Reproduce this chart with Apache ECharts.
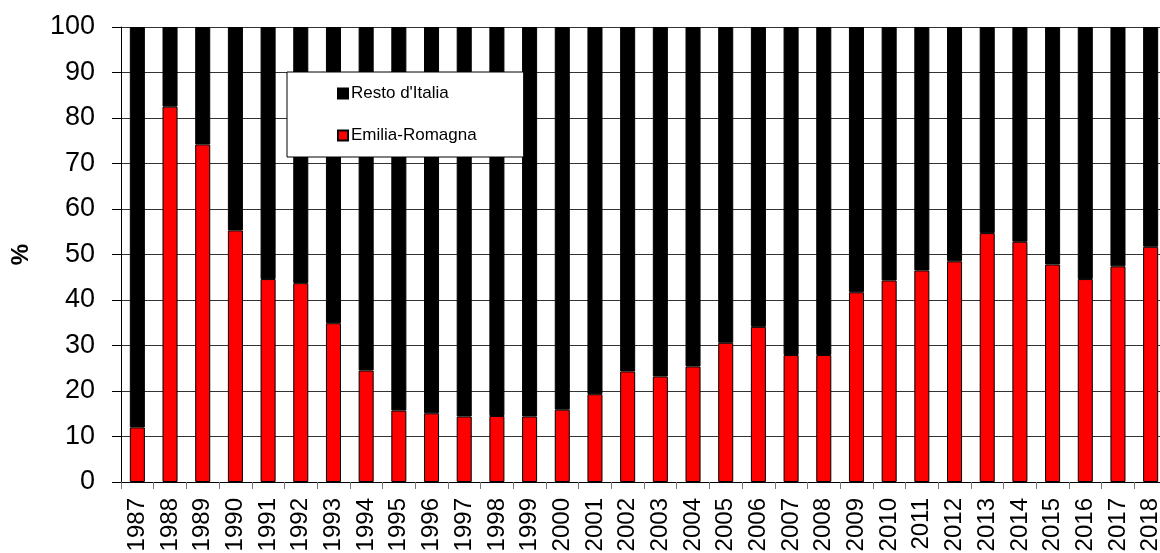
<!DOCTYPE html>
<html>
<head>
<meta charset="utf-8">
<script src="https://cdn.jsdelivr.net/npm/echarts@6/dist/echarts.min.js"></script>
<style>
html,body{margin:0;padding:0;background:#fff;}
#c{width:1160px;height:553px;}
</style>
</head>
<body>
<div id="c"></div>
<script>
const years = ['1987','1988','1989','1990','1991','1992','1993','1994','1995','1996','1997','1998','1999','2000','2001','2002','2003','2004','2005','2006','2007','2008','2009','2010','2011','2012','2013','2014','2015','2016','2017','2018'];
const emiliaRomagna = [12.0,82.5,74.2,55.3,44.6,43.7,34.9,24.5,15.7,15.1,14.4,14.5,14.4,15.9,19.3,24.3,23.2,25.4,30.6,34.1,27.9,27.9,41.7,44.3,46.5,48.5,54.7,52.8,47.8,44.6,47.4,51.7];
const restoItalia = [88.0,17.5,25.8,44.7,55.4,56.3,65.1,75.5,84.3,84.9,85.6,85.5,85.6,84.1,80.7,75.7,76.8,74.6,69.4,65.9,72.1,72.1,58.3,55.7,53.5,51.5,45.3,47.2,52.2,55.4,52.6,48.3];
const yTicks = [0,10,20,30,40,50,60,70,80,90,100];

const chart = echarts.init(document.getElementById('c'), null, {renderer:'canvas'});
const font = '"Liberation Sans", Arial, sans-serif';
chart.setOption({
  animation: false,
  backgroundColor: '#fff',
  textStyle: {fontFamily: font},
  grid: {left: 121, right: -7, top: 27, bottom: 71, containLabel: false, outerBoundsMode: 'none'},
  legend: {
    orient: 'vertical',
    left: 287, top: 72,
    data: ["Resto d'Italia", 'Emilia-Romagna'],
    backgroundColor: '#fff',
    borderColor: '#000',
    borderWidth: 1,
    padding: [13, 47, 13, 50],
    itemGap: 25,
    itemWidth: 10, itemHeight: 10,
    icon: 'rect',
    textStyle: {fontFamily: font, fontSize: 17, color: '#000', lineHeight: 17, padding: [0,0,0,-2]}
  },
  xAxis: {
    type: 'category',
    data: years,
    axisLine: {show: true, lineStyle: {color: '#000', width: 1}},
    axisTick: {show: true, length: 7, lineStyle: {color: '#777'}},
    axisLabel: {rotate: 90, fontSize: 24, color: '#000', margin: 16, fontFamily: font, interval: 0},
    splitLine: {show: false}
  },
  yAxis: {
    type: 'value',
    min: yTicks[0], max: yTicks[yTicks.length-1], interval: 10,
    name: '%',
    nameLocation: 'middle',
    nameRotate: 90,
    nameGap: 88,
    nameTextStyle: {fontSize: 24, fontWeight: 'bold', color: '#000', fontFamily: font},
    axisLine: {show: true, lineStyle: {color: '#000', width: 1}},
    axisTick: {show: true, length: 9, lineStyle: {color: '#000'}},
    axisLabel: {fontSize: 27, color: '#000', margin: 26, fontFamily: font},
    splitLine: {show: true, lineStyle: {color: '#333', width: 1}}
  },
  series: [
    {
      name: 'Emilia-Romagna',
      type: 'bar',
      stack: 'tot',
      data: emiliaRomagna,
      barWidth: '46%',
      itemStyle: {color: '#ff0000', borderColor: '#000', borderWidth: 1}
    },
    {
      name: "Resto d'Italia",
      type: 'bar',
      stack: 'tot',
      data: restoItalia,
      barWidth: '46%',
      itemStyle: {color: '#000', borderColor: '#000', borderWidth: 1}
    }
  ]
});
</script>
</body>
</html>
